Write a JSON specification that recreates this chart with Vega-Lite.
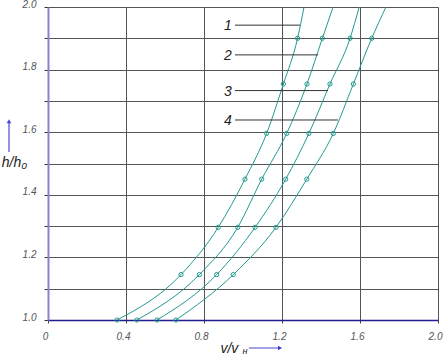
{
  "$schema": "https://vega.github.io/schema/vega-lite/v6.json",
  "width": 390,
  "height": 313,
  "autosize": "none",
  "padding": {"left": 48, "top": 7, "right": 6, "bottom": 35},
  "background": "white",
  "config": {"view": {"stroke": null}},
  "datasets": {
    "curves": [
      {"c": "1", "x": 0.354, "y": 1.0, "m": true},
      {"c": "1", "x": 0.682, "y": 1.145, "m": true},
      {"c": "1", "x": 0.873, "y": 1.296, "m": true},
      {"c": "1", "x": 1.010, "y": 1.45, "m": true},
      {"c": "1", "x": 1.121, "y": 1.596, "m": true},
      {"c": "1", "x": 1.207, "y": 1.754, "m": true},
      {"c": "1", "x": 1.280, "y": 1.9, "m": true},
      {"c": "1", "x": 1.313, "y": 2.0, "m": false},
      {"c": "2", "x": 0.456, "y": 1.0, "m": true},
      {"c": "2", "x": 0.776, "y": 1.145, "m": true},
      {"c": "2", "x": 0.973, "y": 1.296, "m": true},
      {"c": "2", "x": 1.096, "y": 1.45, "m": true},
      {"c": "2", "x": 1.224, "y": 1.596, "m": true},
      {"c": "2", "x": 1.328, "y": 1.754, "m": true},
      {"c": "2", "x": 1.407, "y": 1.9, "m": true},
      {"c": "2", "x": 1.462, "y": 2.0, "m": false},
      {"c": "3", "x": 0.559, "y": 1.0, "m": true},
      {"c": "3", "x": 0.865, "y": 1.145, "m": true},
      {"c": "3", "x": 1.062, "y": 1.296, "m": true},
      {"c": "3", "x": 1.219, "y": 1.45, "m": true},
      {"c": "3", "x": 1.338, "y": 1.596, "m": true},
      {"c": "3", "x": 1.446, "y": 1.754, "m": true},
      {"c": "3", "x": 1.549, "y": 1.9, "m": true},
      {"c": "3", "x": 1.596, "y": 2.0, "m": false},
      {"c": "4", "x": 0.656, "y": 1.0, "m": true},
      {"c": "4", "x": 0.950, "y": 1.145, "m": true},
      {"c": "4", "x": 1.169, "y": 1.296, "m": true},
      {"c": "4", "x": 1.327, "y": 1.45, "m": true},
      {"c": "4", "x": 1.463, "y": 1.596, "m": true},
      {"c": "4", "x": 1.566, "y": 1.754, "m": true},
      {"c": "4", "x": 1.660, "y": 1.9, "m": true},
      {"c": "4", "x": 1.733, "y": 2.0, "m": false}
    ],
    "labels": [
      {"lab": "1", "x": 0.959, "xe": 1.292, "y": 1.942},
      {"lab": "2", "x": 0.959, "xe": 1.385, "y": 1.847},
      {"lab": "3", "x": 0.959, "xe": 1.436, "y": 1.733},
      {"lab": "4", "x": 0.959, "xe": 1.487, "y": 1.639}
    ],
    "titles": [
      {"t": "h/h₀", "x": -0.172, "y": 1.502},
      {"t": "v/v", "x": 0.93, "y": 0.907}
    ],
    "subs": [
      {"t": "н", "x": 1.01, "y": 0.9}
    ],
    "arrows": [
      {"a": "x", "x": 1.03, "xe": 1.19, "y": 0.9105, "ye": 0.9105},
      {"a": "y", "x": -0.2, "xe": -0.2, "y": 1.537, "ye": 1.635}
    ]
  },
  "encoding": {
    "x": {
      "field": "x", "type": "quantitative",
      "scale": {"domain": [0, 2], "nice": false, "zero": false},
      "axis": {
        "title": null,
        "values": [0, 0.4, 0.8, 1.2, 1.6, 2.0],
        "labelExpr": "datum.value == 0 ? '0' : format(datum.value, '.1f')",
        "domainColor": "#1c1c8c", "domainWidth": 1.5,
        "tickColor": "#444", "tickSize": 3,
        "gridColor": "#555", "gridOpacity": 1, "gridWidth": 1,
        "labelFont": "Liberation Sans", "labelFontStyle": "italic", "labelFontSize": 10,
        "labelColor": "#555", "labelPadding": 8, "labelOffset": -3, "labelFlush": false
      }
    },
    "y": {
      "field": "y", "type": "quantitative",
      "scale": {"domain": [1, 2], "nice": false, "zero": false},
      "axis": {
        "title": null,
        "values": [1.0, 1.1, 1.2, 1.3, 1.4, 1.5, 1.6, 1.7, 1.8, 1.9, 2.0],
        "labelExpr": "(round(datum.value * 10) % 2 == 0) ? format(datum.value, '.1f') : ''",
        "domainColor": "#8a80d4", "domainWidth": 2,
        "tickColor": "#333", "tickSize": 4,
        "gridColor": "#555", "gridOpacity": 1, "gridWidth": 1,
        "labelFont": "Liberation Sans", "labelFontStyle": "italic", "labelFontSize": 10,
        "labelColor": "#555", "labelPadding": 8, "labelBaseline": "alphabetic", "labelFlush": false
      }
    }
  },
  "layer": [
    {
      "data": {"name": "curves"},
      "mark": {"type": "line", "interpolate": "monotone", "color": "#23998f", "strokeWidth": 1},
      "encoding": {"detail": {"field": "c"}}
    },
    {
      "data": {"name": "curves"},
      "transform": [{"filter": "datum.m"}],
      "mark": {"type": "point", "shape": "circle", "filled": false, "color": "#23998f", "size": 18, "strokeWidth": 1, "opacity": 1}
    },
    {
      "data": {"name": "labels"},
      "mark": {"type": "rule", "color": "#333", "strokeWidth": 1},
      "encoding": {"x2": {"field": "xe"}}
    },
    {
      "data": {"name": "labels"},
      "mark": {"type": "text", "align": "center", "baseline": "middle", "dx": -7, "dy": 1, "font": "Liberation Sans", "fontStyle": "italic", "fontSize": 14, "color": "#222"},
      "encoding": {"text": {"field": "lab"}}
    },
    {
      "data": {"name": "titles"},
      "mark": {"type": "text", "align": "center", "baseline": "middle", "font": "Liberation Sans", "fontStyle": "italic", "fontSize": 14, "color": "#222"},
      "encoding": {"text": {"field": "t"}}
    },
    {
      "data": {"name": "subs"},
      "mark": {"type": "text", "align": "center", "baseline": "middle", "font": "Liberation Sans", "fontStyle": "italic", "fontSize": 9, "color": "#222"},
      "encoding": {"text": {"field": "t"}}
    },
    {
      "data": {"name": "arrows"},
      "mark": {"type": "rule", "color": "#4a48d0", "strokeWidth": 1.2},
      "encoding": {"x2": {"field": "xe"}, "y2": {"field": "ye"}}
    },
    {
      "data": {"name": "arrows"},
      "transform": [{"filter": "datum.a == 'x'"}],
      "mark": {"type": "point", "shape": "triangle-right", "filled": true, "color": "#3a38c8", "size": 22, "opacity": 1},
      "encoding": {"x": {"field": "xe", "type": "quantitative"}}
    },
    {
      "data": {"name": "arrows"},
      "transform": [{"filter": "datum.a == 'y'"}],
      "mark": {"type": "point", "shape": "triangle-up", "filled": true, "color": "#4a48d0", "size": 22, "opacity": 1},
      "encoding": {"y": {"field": "ye", "type": "quantitative"}}
    }
  ]
}
